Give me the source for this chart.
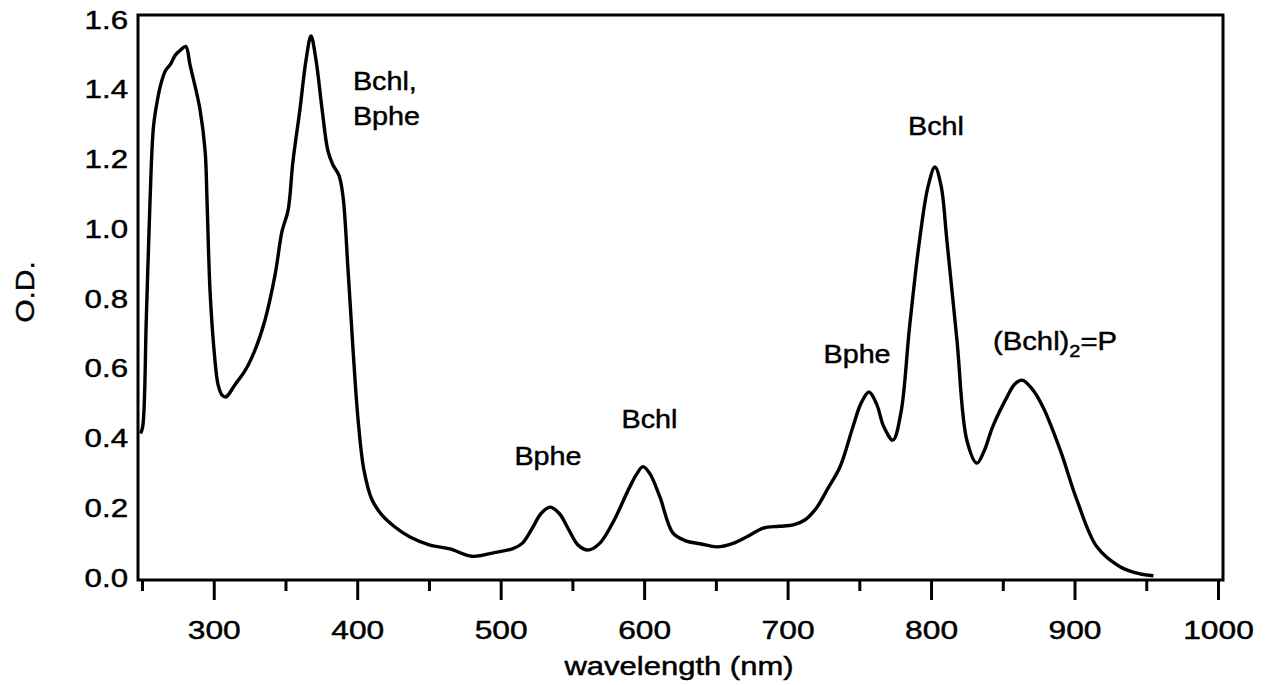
<!DOCTYPE html>
<html lang="en">
  <head>
    <meta charset="UTF-8" />
    <title>Absorption spectrum</title>
    <style>
      body {
        margin: 0;
        padding: 0;
        background-color: #ffffff;
      }
      svg {
        display: block;
        font-family: "Liberation Sans", Arial, sans-serif;
      }
      .axis text,
      .note {
        font-size: 25px;
        fill: #000;
        stroke: #000;
        stroke-width: 0.45px;
      }
      .axis line {
        stroke: #000;
        stroke-width: 3px;
      }
    </style>
  </head>
  <body>
    <div id="plot"></div>

    <script src="https://d3js.org/d3.v7.min.js"></script>
    <script>
      // absorption spectrum, wavelength in nm vs optical density
      const wavelength = [
        249, 250.5, 253, 255.6, 258, 260.7, 263, 266.3, 270, 273.2, 277, 280.5,
        283.5, 287.6, 290.4, 294, 295.3, 297.4, 300.2, 303, 305.8, 308.5, 314.8,
        321.8, 328.8, 335.7, 342.7, 347.6, 351.8, 355.2, 360.1, 364.3, 367.8,
        371.3, 375.5, 379.6, 383.1, 387.3, 390.1, 393.6, 397.1, 400.6, 404.7,
        410.3, 417.3, 426.3, 436.8, 450.7, 464.7, 480, 495, 508.6, 515, 522.5,
        528, 534.4, 541, 548, 554, 561, 569, 578, 590, 595, 599.2, 604, 611, 620,
        629, 639, 650.8, 662, 672, 683, 694, 704, 712, 720, 728, 736.5, 745.6,
        751, 756.7, 762, 767, 773.4, 779, 785, 792, 798, 802.7, 807, 811, 818,
        825, 832, 837, 843, 853, 858, 863.4, 870, 878, 890, 901.7, 915.6, 931.7,
        945, 955
      ];
      const od = [
        0.42, 0.44, 0.75, 1.09, 1.3, 1.375, 1.42, 1.46, 1.48, 1.505, 1.52, 1.53,
        1.476, 1.405, 1.35, 1.23, 1.09, 0.83, 0.66, 0.56, 0.53, 0.525, 0.56, 0.6,
        0.66, 0.745, 0.874, 1.0, 1.06, 1.2, 1.35, 1.49, 1.56, 1.49, 1.35, 1.23,
        1.19, 1.16, 1.1, 0.89, 0.66, 0.46, 0.315, 0.23, 0.186, 0.152, 0.123, 0.1,
        0.089, 0.068, 0.078, 0.09, 0.105, 0.152, 0.19, 0.209, 0.19, 0.14, 0.1,
        0.086, 0.105, 0.163, 0.267, 0.305, 0.325, 0.305, 0.238, 0.135, 0.112,
        0.104, 0.095, 0.105, 0.125, 0.149, 0.154, 0.158, 0.172, 0.206, 0.262,
        0.324, 0.44, 0.505, 0.539, 0.505, 0.44, 0.401, 0.48, 0.725, 0.975, 1.13,
        1.184, 1.13, 0.975, 0.69, 0.4, 0.335, 0.37, 0.44, 0.525, 0.56, 0.573,
        0.55, 0.496, 0.373, 0.229, 0.095, 0.038, 0.018, 0.012
      ];

      const xTicks = d3.range(250, 1001, 50);
      const yTicks = [0, 0.2, 0.4, 0.6, 0.8, 1.0, 1.2, 1.4, 1.6];

      // peak labels, anchored in data units
      const notes = [
        { lines: ["Bchl,", "Bphe"], w: 397, v: 1.405, anchor: "start" },
        { lines: ["Bphe"], w: 533, v: 0.33, anchor: "middle" },
        { lines: ["Bchl"], w: 603.7, v: 0.436, anchor: "middle" },
        { lines: ["Bphe"], w: 748.4, v: 0.622, anchor: "middle" },
        { lines: ["Bchl"], w: 803.4, v: 1.276, anchor: "middle" }
      ];

      const width = 1269,
        height = 685;
      const frame = { left: 138, right: 1223, top: 15, bottom: 580 };

      const svg = d3
        .select("#plot")
        .append("svg")
        .attr("width", width)
        .attr("height", height);

      const x = d3
        .scaleLinear()
        .domain([247.2, 1003.5])
        .range([frame.left, frame.right]);
      const y = d3
        .scaleLinear()
        .domain([0, 1.62])
        .range([frame.bottom, frame.top]);

      // x axis: long ticks every 100, short ones in between
      const xAxis = svg
        .append("g")
        .attr("class", "axis")
        .attr("transform", `translate(0,${frame.bottom})`)
        .call(
          d3
            .axisBottom(x)
            .tickValues(xTicks)
            .tickSize(20)
            .tickFormat((d) => (d % 100 === 0 ? d : ""))
        );
      xAxis.select(".domain").remove();
      xAxis.selectAll(".tick line").attr("y2", (d) => (d % 100 === 0 ? 20 : 11));
      xAxis
        .selectAll(".tick text")
        .attr("y", 59)
        .attr("dy", null)
        .attr("transform", "scale(1.27,1)");

      const yAxis = svg
        .append("g")
        .attr("class", "axis")
        .attr("transform", `translate(${frame.left},0)`)
        .call(
          d3
            .axisLeft(y)
            .tickValues(yTicks)
            .tickSize(0)
            .tickPadding(8)
            .tickFormat(d3.format(".1f"))
        );
      yAxis.select(".domain").remove();
      yAxis
        .selectAll(".tick text")
        .attr("dy", "0.25em")
        .attr("transform", "scale(1.25,1)");

      // frame
      svg
        .append("rect")
        .attr("x", frame.left)
        .attr("y", frame.top)
        .attr("width", frame.right - frame.left)
        .attr("height", frame.bottom - frame.top)
        .attr("fill", "none")
        .attr("stroke", "#000")
        .attr("stroke-width", 3);

      // spectrum
      const points = wavelength.map((w, i) => [w, od[i]]);
      const line = d3
        .line()
        .x((d) => x(d[0]))
        .y((d) => y(d[1]))
        .curve(d3.curveCatmullRom.alpha(0.5));

      svg
        .append("path")
        .datum(points)
        .attr("d", line)
        .attr("fill", "none")
        .attr("stroke", "#000")
        .attr("stroke-width", 3.4)
        .attr("stroke-linejoin", "round");

      // axis titles
      svg
        .append("text")
        .attr("class", "note")
        .attr("text-anchor", "middle")
        .attr("transform", `translate(679,675) scale(1.24,1)`)
        .text("wavelength (nm)");

      svg
        .append("text")
        .attr("class", "note")
        .attr("text-anchor", "middle")
        .attr("transform", "translate(34,292) rotate(-90) scale(1.2,1)")
        .text("O.D.");

      // peak assignments
      notes.forEach((n) => {
        const t = svg
          .append("text")
          .attr("class", "note")
          .attr("text-anchor", n.anchor)
          .attr("transform", `translate(${x(n.w)},${y(n.v)}) scale(1.15,1)`);
        n.lines.forEach((s, i) => {
          t.append("tspan")
            .attr("x", 0)
            .attr("dy", i === 0 ? 0 : 35)
            .text(s);
        });
      });

      // special pair label with subscript
      const p = svg
        .append("text")
        .attr("class", "note")
        .attr("transform", `translate(${x(843.2)},${y(0.659)}) scale(1.17,1)`);
      p.append("tspan").text("(Bchl)");
      p.append("tspan").attr("dy", 7).attr("font-size", 17).text("2");
      p.append("tspan").attr("dy", -7).text("=P");
    </script>
  </body>
</html>
